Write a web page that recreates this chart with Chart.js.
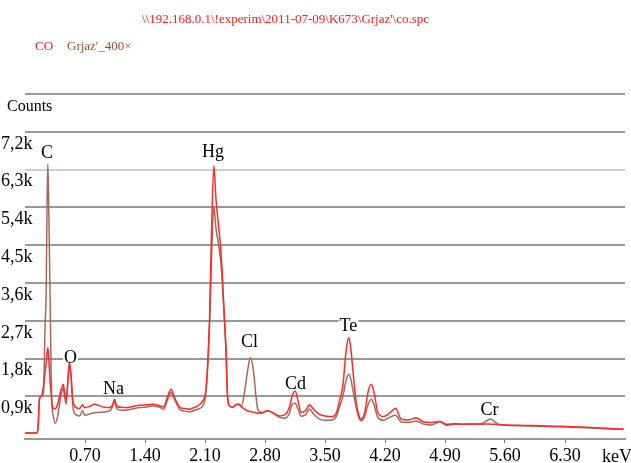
<!DOCTYPE html>
<html>
<head>
<meta charset="utf-8">
<script src="https://cdn.jsdelivr.net/npm/chart.js@4.4.1/dist/chart.umd.min.js"></script>
<style>
  html, body { margin: 0; padding: 0; background: #fff; }
  body { width: 631px; height: 463px; position: relative; overflow: hidden; font-family: 'Liberation Serif', 'Times New Roman', serif; }
  #chart { position: absolute; left: 0; top: 0; }
  .txt { position: absolute; white-space: nowrap; line-height: 1; }
  #path { left: 142px; top: 12px; font-size: 13px; color: #ff1a1a; }
  #leg1 { left: 35px; top: 39px; font-size: 13px; color: #ff1a1a; }
  #leg2 { left: 67px; top: 39px; font-size: 13px; color: #9c4f2e; }
  #counts { left: 7px; top: 98px; font-size: 16px; color: #000; }
  #kev { left: 602px; top: 447px; font-size: 18px; color: #000; }
</style>
</head>
<body>
<canvas id="chart" width="631" height="463"></canvas>
<div class="txt" id="path">\\192.168.0.1\!experim\2011-07-09\K673\Grjaz'\co.spc</div>
<div class="txt" id="leg1">CO</div>
<div class="txt" id="leg2">Grjaz'_400×</div>
<div class="txt" id="counts">Counts</div>
<div class="txt" id="kev">keV</div>
<script>
// energy axis (keV) shared by both spectra
const energies = [
  0.000, 0.134, 0.152, 0.169, 0.193, 0.216, 0.233, 0.247, 0.258, 0.266, 0.274, 0.286, 0.295, 0.306, 0.315, 0.333, 0.352,
  0.379, 0.414, 0.446, 0.461, 0.481, 0.502, 0.519, 0.537, 0.558, 0.589, 0.636, 0.674, 0.694, 0.753, 0.811, 0.869, 0.928,
  0.986, 1.021, 1.044, 1.073, 1.126, 1.184, 1.254, 1.336, 1.418, 1.491, 1.569, 1.616, 1.666, 1.706, 1.744, 1.803, 1.861,
  1.919, 1.978, 2.016, 2.074, 2.106, 2.129, 2.153, 2.176, 2.203, 2.228, 2.261, 2.289, 2.327, 2.345, 2.363, 2.386, 2.421,
  2.456, 2.491, 2.526, 2.561, 2.596, 2.631, 2.666, 2.695, 2.716, 2.759, 2.829, 2.899, 2.969, 3.028, 3.086, 3.115, 3.152,
  3.185, 3.222, 3.273, 3.319, 3.366, 3.436, 3.518, 3.588, 3.634, 3.669, 3.708, 3.748, 3.778, 3.803, 3.824, 3.864, 3.903,
  3.923, 3.961, 4.002, 4.039, 4.072, 4.116, 4.183, 4.253, 4.323, 4.389, 4.474, 4.563, 4.649, 4.743, 4.837, 4.918, 5.011,
  5.128, 5.244, 5.338, 5.385, 5.431, 5.478, 5.524, 5.653, 5.828, 6.003, 6.236, 6.470, 6.703, 6.878, 6.983
];

// CO spectrum (red)
const countsCO = [
  30, 30, 150, 850, 910, 1150, 1450, 1700, 1950, 2060, 1900, 1500, 1200, 950, 720, 620, 600,
  700, 1000, 1190, 1000, 833, 1300, 1690, 1400, 833, 650, 610, 700, 630, 660, 714, 680, 640,
  635, 700, 833, 660, 640, 635, 660, 690, 700, 714, 680, 650, 912, 1070, 872, 650, 610,
  595, 640, 674, 793, 990, 1600, 2740, 4800, 6400, 5600, 4900, 4280, 2740, 2000, 900, 680, 640,
  700, 714, 650, 600, 560, 540, 520, 510, 500, 500, 560, 500, 436, 460, 650, 900, 1030,
  800, 520, 560, 700, 600, 470, 430, 420, 520, 800, 1150, 2020, 2300, 2000, 1550, 760, 397,
  357, 500, 1000, 1190, 1000, 516, 420, 500, 620, 360, 340, 390, 290, 278, 300, 240, 250,
  240, 245, 240, 245, 240, 235, 230, 215, 210, 200, 190, 170, 150, 130, 125
];

// Grjaz'_400x spectrum (brown)
const countsGrjaz = [
  30, 30, 150, 830, 900, 1000, 2500, 3400, 5600, 6430, 5800, 4200, 3000, 1300, 700, 400, 262,
  400, 850, 1100, 900, 714, 1350, 1720, 1350, 674, 476, 436, 560, 450, 480, 510, 516, 530,
  555, 650, 793, 600, 570, 575, 600, 635, 650, 674, 640, 595, 833, 990, 833, 595, 550,
  531, 570, 595, 674, 912, 1500, 2600, 4200, 5420, 4900, 4480, 4000, 2700, 2000, 900, 680, 640,
  690, 720, 680, 1000, 1500, 1825, 1500, 900, 595, 516, 560, 500, 400, 380, 500, 700, 740,
  600, 430, 460, 600, 480, 360, 330, 340, 430, 650, 900, 1300, 1430, 1300, 1070, 635, 357,
  317, 420, 700, 833, 700, 397, 330, 400, 450, 290, 280, 317, 240, 220, 300, 214, 240,
  238, 238, 260, 320, 365, 300, 230, 210, 200, 190, 180, 160, 140, 120, 115
];

const xTickValues = [0.7, 1.4, 2.1, 2.8, 3.5, 4.2, 4.9, 5.6, 6.3];
const xTickLabels = ['0.70', '1.40', '2.10', '2.80', '3.50', '4.20', '4.90', '5.60', '6.30'];
const yTickValues = [900, 1800, 2700, 3600, 4500, 5400, 6300, 7200, 8100];
const yTickLabels = ['0,9k', '1,8k', '2,7k', '3,6k', '4,5k', '5,4k', '6,3k', '7,2k'];

// element labels, placed in data units (keV, counts)
const peakNames = ['C', 'O', 'Na', 'Hg', 'Cl', 'Cd', 'Te', 'Cr'];
const peakLabelKeV = [0.257, 0.531, 1.033, 2.193, 2.619, 3.156, 3.774, 5.419];
const peakLabelCounts = [6730, 1830, 1100, 6740, 2210, 1230, 2600, 600];

const toPoints = ys => energies.map((e, i) => ({ x: e, y: ys[i] }));

const LABEL_FONT = '18px "Liberation Serif", serif';

const peakLabels = {
  id: 'peakLabels',
  beforeDatasetsDraw(chart) {
    const { ctx, scales: { x, y } } = chart;
    ctx.save();
    ctx.font = LABEL_FONT;
    ctx.fillStyle = '#fff';
    peakNames.forEach((name, i) => {
      const px = x.getPixelForValue(peakLabelKeV[i]);
      const py = y.getPixelForValue(peakLabelCounts[i]);
      const w = ctx.measureText(name).width + 2;
      ctx.fillRect(px - w / 2, py - 7, w, 14);
    });
    ctx.restore();
  },
  afterDatasetsDraw(chart) {
    const { ctx, scales: { x, y } } = chart;
    ctx.save();
    ctx.font = LABEL_FONT;
    ctx.fillStyle = '#000';
    ctx.textAlign = 'center';
    ctx.textBaseline = 'alphabetic';
    peakNames.forEach((name, i) => {
      const px = x.getPixelForValue(peakLabelKeV[i]);
      const py = y.getPixelForValue(peakLabelCounts[i]);
      ctx.fillText(name, px, py + 6);
    });
    ctx.restore();
  }
};

const tickFont = { family: '"Liberation Serif", serif', size: 18 };

new Chart(document.getElementById('chart'), {
  type: 'line',
  data: {
    datasets: [
      { label: 'CO', data: toPoints(countsCO), borderColor: '#ff2a2a', borderWidth: 1.5,
        pointRadius: 0, cubicInterpolationMode: 'monotone', fill: false },
      { label: "Grjaz'_400×", data: toPoints(countsGrjaz), borderColor: '#a5695a', borderWidth: 1.5,
        pointRadius: 0, cubicInterpolationMode: 'monotone', fill: false }
    ]
  },
  options: {
    responsive: false,
    animation: false,
    devicePixelRatio: 1,
    layout: { padding: { top: 94, right: 6, left: 0, bottom: 0 } },
    plugins: { legend: { display: false }, tooltip: { enabled: false } },
    scales: {
      x: {
        type: 'linear', min: 0, max: 7,
        afterBuildTicks: s => { s.ticks = xTickValues.map(v => ({ value: v })); },
        afterFit: s => { s.height = 24; },
        grid: { drawOnChartArea: false, drawTicks: true, tickLength: 4, color: '#777', lineWidth: 1 },
        border: { display: true, color: '#999', width: 2 },
        ticks: { autoSkip: false, maxRotation: 0, padding: 2, color: '#000', font: tickFont,
                 callback: (v, i) => xTickLabels[i] }
      },
      y: {
        min: -114, max: 8100,
        afterBuildTicks: s => { s.ticks = yTickValues.map(v => ({ value: v })); },
        afterFit: s => { s.width = 25; },
        grid: { drawTicks: false, lineWidth: 2,
                color: ctx => (ctx.tick && ctx.tick.value === 6300 ? '#cfcfcf' : '#999') },
        border: { display: false },
        ticks: { autoSkip: false, mirror: true, crossAlign: 'far', padding: -24, labelOffset: 12,
                 color: '#000', font: tickFont, callback: (v, i) => yTickLabels[i] || '' }
      }
    }
  },
  plugins: [peakLabels]
});
</script>
</body>
</html>
